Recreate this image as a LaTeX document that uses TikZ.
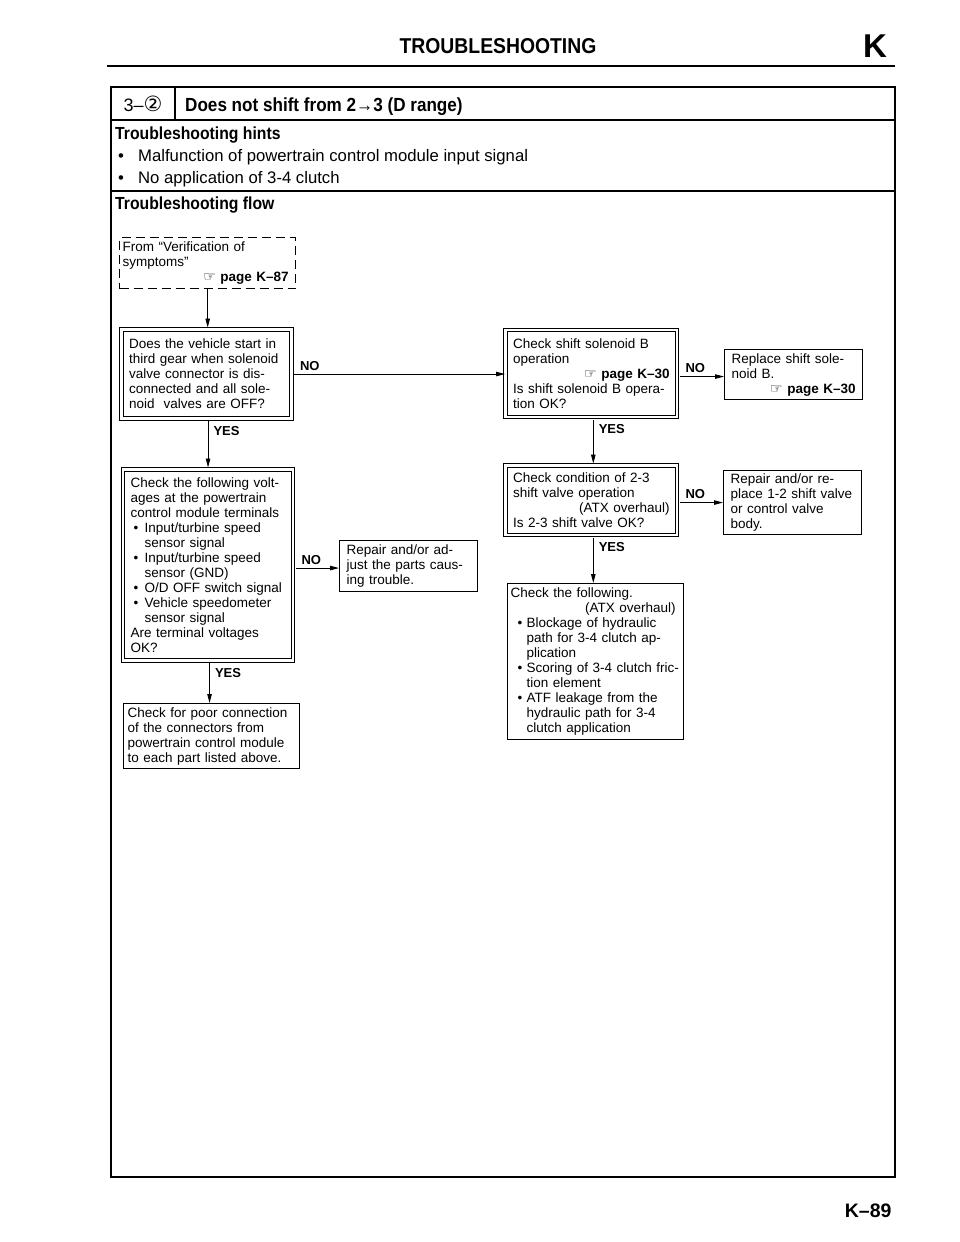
\documentclass[tikz,border=0pt]{standalone}
\usepackage{fontspec}
\setmainfont{Liberation Sans}
\newfontfamily\hdfont[FakeStretch=0.9]{Liberation Sans}
\newfontfamily\symfont{DejaVu Sans}
\usetikzlibrary{arrows.meta,positioning}

\newcommand{\hand}{{\symfont\fontsize{14}{13}\selectfont ☞}}
\newcommand{\itm}[2]{\makebox[#1][l]{\hspace{#2}•}}

\tikzset{
  box/.style={draw,line width=1.1pt,anchor=north west,align=left,inner ysep=0pt,
    inner xsep=7pt,font=\fontsize{13.5}{15}\selectfont},
  dbox/.style={box,double,double distance=2.4pt,inner xsep=7.5pt},
  dashbox/.style={box,dash pattern=on 9pt off 5pt,line width=1.4pt,inner xsep=3pt},
  lbl/.style={font=\bfseries\fontsize{13}{13}\selectfont,inner sep=2pt},
  nolbl/.style={lbl,pos=0,anchor=south west,xshift=5.5pt,yshift=1pt},
  yeslbl/.style={lbl,pos=0,anchor=north west,xshift=3pt,yshift=-4.5pt},
  link/.style={line width=0.9pt,-{Triangle[length=9pt,width=4.5pt]}},
  hdtxt/.style={anchor=base west,inner sep=0pt,font=\hdfont\bfseries\fontsize{17.5}{18}\selectfont}
}

\begin{document}
\begin{tikzpicture}[x=1pt,y=-1pt]
\useasboundingbox (0,0) rectangle (960,1242);
% page head
\node[anchor=base] (ttl) at (498,53) {\hdfont\bfseries\fontsize{21.5}{22}\selectfont TROUBLESHOOTING};
\node[anchor=base] (sec) at (875,57) {\bfseries\fontsize{33}{33}\selectfont K};
\draw[line width=2pt] (107,66) -- (895,66);
% frame
\draw[line width=1.4pt] (111,87) rectangle (895,1177);
\draw[line width=1.1pt] (111,120) -- (895,120) (111,191) -- (895,191) (175,87) -- (175,120);
\node[anchor=base,inner sep=0pt,font=\fontsize{18}{18}\selectfont] (num) at (143,111) {3–{\symfont\fontsize{21}{18}\selectfont ②}};
\node[anchor=base west,inner sep=0pt] (sym) at (185,111)
  {\hdfont\bfseries\fontsize{19}{19}\selectfont Does not shift from 2→3 (D range)};
\node[hdtxt] (hint) at (115,139) {Troubleshooting hints};
\node[anchor=base west,inner sep=0pt,font=\fontsize{16.7}{17}\selectfont] (h1) at (118,161)
  {\makebox[20pt][l]{•}Malfunction of powertrain control module input signal};
\node[anchor=base west,inner sep=0pt,font=\fontsize{16.7}{17}\selectfont] (h2) at (118,183)
  {\makebox[20pt][l]{•}No application of 3-4 clutch};
\node[hdtxt] (flow) at (115,209) {Troubleshooting flow};

% flow boxes
\node[dashbox,minimum width=176pt,minimum height=51pt,text width=170pt] (from) at (119,237)
  {From “Verification of\\symptoms”\\\hfill\hand\ \textbf{page K–87}\rule{4pt}{0pt}};
\node[dbox,minimum width=170pt,minimum height=89pt,text width=155pt] (q1) at (121,329)
  {Does the vehicle start in\\third gear when solenoid\\valve connector is dis-\\connected and all sole-\\noid\ \ valves are OFF?};
\node[dbox,minimum width=171.5pt,minimum height=87pt,text width=156.5pt] (q2) at (505,329.5)
  {Check shift solenoid B\\operation\\\hfill\hand\ \textbf{page K–30}\\Is shift solenoid B opera-\\tion OK?};
\node[box,minimum width=138pt,minimum height=50pt,text width=124pt] (sol) at (724,349)
  {Replace shift sole-\\noid B.\\\hfill\hand\ \textbf{page K–30}};
\node[dbox,minimum width=171.5pt,minimum height=69.5pt,text width=156.5pt] (q3) at (505,465)
  {Check condition of 2-3\\shift valve operation\\\hfill(ATX overhaul)\\Is 2-3 shift valve OK?};
\node[box,minimum width=138pt,minimum height=64pt,text width=124pt] (valve) at (723,470)
  {Repair and/or re-\\place 1-2 shift valve\\or control valve\\body.};
\node[dbox,minimum width=170pt,minimum height=191pt,text width=155pt] (q4) at (122.5,469)
  {Check the following volt-\\ages at the powertrain\\control module terminals\\
   \itm{14pt}{3pt}Input/turbine speed\\\hspace*{14pt}sensor signal\\
   \itm{14pt}{3pt}Input/turbine speed\\\hspace*{14pt}sensor (GND)\\
   \itm{14pt}{3pt}O/D OFF switch signal\\
   \itm{14pt}{3pt}Vehicle speedometer\\\hspace*{14pt}sensor signal\\
   Are terminal voltages\\OK?};
\node[box,minimum width=138pt,minimum height=51pt,text width=124pt] (fix) at (339,540)
  {Repair and/or ad-\\just the parts caus-\\ing trouble.};
\node[box,minimum width=176pt,minimum height=156pt,text width=172pt,inner xsep=2pt] (atx) at (507,583)
  {\hspace*{1pt}Check the following.\\\hfill(ATX overhaul)\rule{6pt}{0pt}\\
   \itm{17pt}{8pt}Blockage of hydraulic\\\hspace*{17pt}path for 3-4 clutch ap-\\\hspace*{17pt}plication\\
   \itm{17pt}{8pt}Scoring of 3-4 clutch fric-\\\hspace*{17pt}tion element\\
   \itm{17pt}{8pt}ATF leakage from the\\\hspace*{17pt}hydraulic path for 3-4\\\hspace*{17pt}clutch application};
\node[box,minimum width=176pt,minimum height=65pt,text width=168pt,inner xsep=4pt] (conn) at (123,703)
  {Check for poor connection\\of the connectors from\\powertrain control module\\to each part listed above.};

% connectors
\draw[link,shorten >=1.5pt] (from.south) -- (from.south |- q1.north);
\draw[link,shorten <=2pt,shorten >=1.5pt] (q1.south -| q4.north) -- node[yeslbl]{YES} (q4.north);
\draw[link,shorten <=2pt] (q1.east) -- node[nolbl]{NO} (q1.east -| q2.west);
\draw[link,shorten <=2pt,shorten >=1.5pt] ([xshift=2pt]q2.south) -- node[yeslbl]{YES} ([xshift=2pt]q3.north);
\draw[link,shorten <=2pt] ([yshift=-2pt]sol.west -| q2.east) -- node[nolbl]{NO} ([yshift=-2pt]sol.west);
\draw[link,shorten <=2pt] (valve.west -| q3.east) -- node[nolbl]{NO} (valve.west);
\draw[link,shorten <=2pt] ([xshift=2pt]q3.south) -- node[yeslbl]{YES} ([xshift=2pt]q3.south |- atx.north);
\draw[link,shorten <=2pt] ([yshift=-2pt]fix.west -| q4.east) -- node[nolbl]{NO} ([yshift=-2pt]fix.west);
\draw[link,shorten <=2pt] ([xshift=1.5pt]q4.south) -- node[yeslbl]{YES} ([xshift=1.5pt]q4.south |- conn.north);

\node[anchor=base east] (page) at (895,1217) {\bfseries\fontsize{19.5}{20}\selectfont K–89};
\end{tikzpicture}
\end{document}
